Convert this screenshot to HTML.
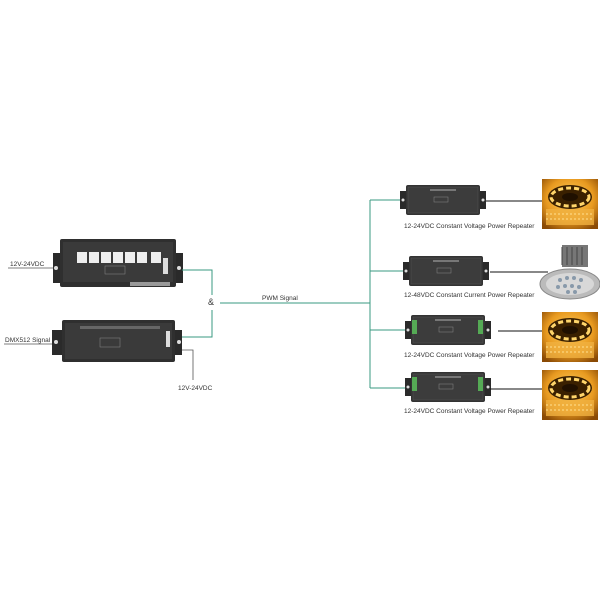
<!DOCTYPE html>
<html><head><style>body{margin:0;background:#fff}svg{display:block}text{font-family:"Liberation Sans",sans-serif;font-size:6.5px;fill:#333}</style></head><body>
<svg width="600" height="600" viewBox="0 0 600 600">
<defs>
<radialGradient id="g" cx="50%" cy="40%" r="70%"><stop offset="0" stop-color="#ffd060"/><stop offset="0.6" stop-color="#e89a20"/><stop offset="1" stop-color="#8a4a05"/></radialGradient>
<g id="strip">
<rect width="56" height="50" fill="url(#g)"/>
<ellipse cx="28" cy="18" rx="22" ry="12" fill="#3a2000"/>
<ellipse cx="28" cy="18" rx="19" ry="9" fill="none" stroke="#ffd56a" stroke-width="3" stroke-dasharray="5 3"/>
<ellipse cx="28" cy="18" rx="8" ry="4" fill="#201000"/>
<rect x="4" y="30" width="48" height="16" fill="#f0b040" opacity="0.8"/>
<line x1="4" y1="35" x2="52" y2="35" stroke="#ffe090" stroke-dasharray="2 2"/>
<line x1="4" y1="40" x2="52" y2="40" stroke="#ffe090" stroke-dasharray="2 2"/>
</g>
<g id="rep">
<rect x="0" y="6" width="86" height="18" fill="#2a2a2a"/>
<rect x="6" y="0" width="74" height="30" rx="2" fill="#333"/>
<rect x="8" y="2" width="70" height="26" fill="#3c3c3c" stroke="#555" stroke-width="0.5"/>
<rect x="30" y="4" width="26" height="2" fill="#777"/>
<rect x="34" y="12" width="14" height="5" fill="none" stroke="#888" stroke-width="0.5"/>
<circle cx="3" cy="15" r="1.5" fill="#ddd"/><circle cx="83" cy="15" r="1.5" fill="#ddd"/>
</g>
</defs>
<!-- left labels -->
<text x="10" y="266">12V-24VDC</text>
<line x1="8" y1="268" x2="54" y2="268" stroke="#555" stroke-width="0.8"/>
<text x="5" y="342">DMX512 Signal</text>
<line x1="4" y1="344" x2="52" y2="344" stroke="#555" stroke-width="0.8"/>
<polyline points="182,350 193,350 193,380" fill="none" stroke="#555" stroke-width="0.8"/>
<text x="178" y="390">12V-24VDC</text>
<!-- top device -->
<rect x="53" y="253" width="130" height="30" fill="#2a2a2a"/>
<rect x="60" y="239" width="116" height="48" rx="2" fill="#2f2f2f"/>
<rect x="63" y="242" width="110" height="40" fill="#3a3a3a"/>
<rect x="77" y="252" width="10" height="11" fill="#eee"/><rect x="89" y="252" width="10" height="11" fill="#eee"/>
<rect x="101" y="252" width="10" height="11" fill="#eee"/><rect x="113" y="252" width="10" height="11" fill="#eee"/>
<rect x="125" y="252" width="10" height="11" fill="#eee"/><rect x="137" y="252" width="10" height="11" fill="#eee"/>
<rect x="151" y="252" width="10" height="11" fill="#eee"/><rect x="163" y="258" width="5" height="16" fill="#ddd"/>
<rect x="105" y="266" width="20" height="8" fill="none" stroke="#888" stroke-width="0.5"/>
<rect x="130" y="282" width="40" height="4" fill="#999"/>
<circle cx="56" cy="268" r="2" fill="#ddd"/><circle cx="179" cy="268" r="2" fill="#ddd"/>
<!-- bottom device -->
<rect x="52" y="330" width="130" height="25" fill="#2a2a2a"/>
<rect x="62" y="320" width="113" height="42" rx="2" fill="#2f2f2f"/>
<rect x="65" y="323" width="107" height="36" fill="#3a3a3a"/>
<rect x="80" y="326" width="80" height="3" fill="#666"/>
<rect x="100" y="338" width="20" height="9" fill="none" stroke="#888" stroke-width="0.5"/>
<rect x="166" y="331" width="4" height="16" fill="#ddd"/>
<circle cx="56" cy="342" r="2" fill="#ddd"/><circle cx="179" cy="342" r="2" fill="#ddd"/>
<!-- green lines -->
<g fill="none" stroke="#3a9a80" stroke-width="1">
<polyline points="182,270 212,270 212,295"/>
<polyline points="182,337 212,337 212,310"/>
<line x1="220" y1="303" x2="370" y2="303"/>
<line x1="370" y1="200" x2="370" y2="388"/>
<line x1="370" y1="200" x2="405" y2="200"/>
<line x1="370" y1="271" x2="405" y2="271"/>
<line x1="370" y1="330" x2="405" y2="330"/>
<line x1="370" y1="388" x2="405" y2="388"/>
</g>
<text x="208" y="305" style="font-size:9px">&amp;</text>
<text x="262" y="300">PWM Signal</text>
<!-- repeaters -->
<use href="#rep" x="400" y="185"/>
<use href="#rep" x="403" y="256"/>
<use href="#rep" x="405" y="315"/>
<use href="#rep" x="405" y="372"/>
<rect x="412" y="320" width="5" height="14" fill="#5a5"/><rect x="478" y="320" width="5" height="14" fill="#5a5"/>
<rect x="412" y="377" width="5" height="14" fill="#5a5"/><rect x="478" y="377" width="5" height="14" fill="#5a5"/>
<g stroke="#111" stroke-width="1">
<line x1="486" y1="201" x2="542" y2="201"/>
<line x1="490" y1="272" x2="548" y2="272"/>
<line x1="498" y1="331" x2="542" y2="331"/>
<line x1="490" y1="389" x2="542" y2="389"/>
</g>
<text x="404" y="228">12-24VDC  Constant  Voltage Power Repeater</text>
<text x="404" y="297">12-48VDC  Constant Current Power Repeater</text>
<text x="404" y="357">12-24VDC Constant  Voltage Power Repeater</text>
<text x="404" y="413">12-24VDC Constant  Voltage Power Repeater</text>
<use href="#strip" x="542" y="179"/>
<use href="#strip" x="542" y="312"/>
<use href="#strip" x="542" y="370"/>
<!-- downlight -->
<rect x="562" y="245" width="26" height="22" fill="#777"/>
<path d="M562 247 v18 M567 247 v18 M572 247 v18 M577 247 v18 M582 247 v18" stroke="#444"/>
<ellipse cx="570" cy="284" rx="30" ry="15" fill="#bbb" stroke="#888"/>
<ellipse cx="570" cy="284" rx="24" ry="11" fill="#d8d8d8"/>
<g fill="#8899aa"><circle cx="560" cy="280" r="2"/><circle cx="567" cy="278" r="2"/><circle cx="574" cy="278" r="2"/><circle cx="581" cy="280" r="2"/><circle cx="558" cy="287" r="2"/><circle cx="565" cy="286" r="2"/><circle cx="572" cy="286" r="2"/><circle cx="579" cy="287" r="2"/><circle cx="568" cy="292" r="2"/><circle cx="575" cy="292" r="2"/></g>
</svg>
</body></html>
